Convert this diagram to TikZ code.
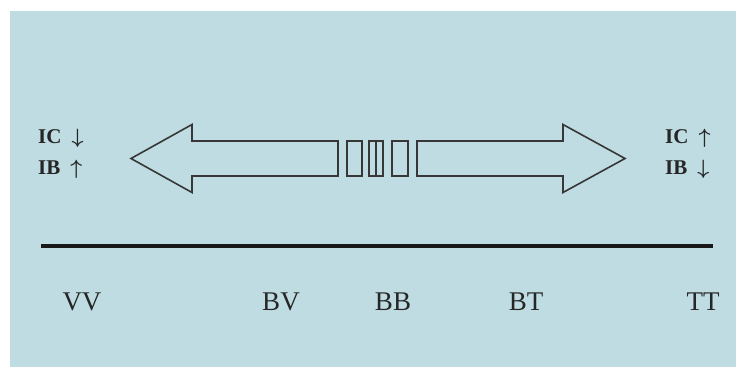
\documentclass[tikz,border=0pt]{standalone}
\usepackage{fontspec}
\setmainfont{Liberation Serif}
\definecolor{bgblue}{RGB}{190,220,225}
\definecolor{outl}{RGB}{55,55,55}
\definecolor{axis}{RGB}{25,25,25}
\begin{document}
\begin{tikzpicture}[x=1pt,y=-1pt,
  arrowshape/.style={draw=outl,line width=1.6pt,line join=miter},
  boxshape/.style={draw=outl,line width=1.6pt},
  axisline/.style={draw=axis,line width=4pt},
  tick/.style={anchor=base,font=\fontsize{27}{30}\selectfont,text=black!85,inner sep=0pt},
  trend/.style={anchor=base west,font=\bfseries\boldmath\fontsize{21}{24}\selectfont,text=black!85,inner sep=0pt}]
\useasboundingbox (0,0) rectangle (736,367);
\fill[bgblue] (10,11) rectangle (736,367);
% left arrow
\draw[arrowshape] (338,141) -- (192,141) -- (192,124.5) -- (131,158.5) -- (192,192.5) -- (192,176) -- (338,176) -- cycle;
% right arrow
\draw[arrowshape] (417,141) -- (563,141) -- (563,124.5) -- (625,158.5) -- (563,192.5) -- (563,176) -- (417,176) -- cycle;
% middle boxes
\draw[boxshape] (347,141) rectangle (362,176);
\draw[boxshape] (369,141) rectangle (383,176);
\draw[boxshape] (376,141) -- (376,176);
\draw[boxshape] (392,141) rectangle (408,176);
% axis
\coordinate (axL) at (41,245.5);
\coordinate (axR) at (713,245.5);
\draw[axisline] (axL) -- (axR);
% labels
\node[tick] (vv) at (82,310) {VV};
\node[tick] (bv) at (281,310) {BV};
\node[tick] (bb) at (393,310) {BB};
\node[tick] (bt) at (526,310) {BT};
\node[tick] (tt) at (703,310) {TT};
% trend labels
\node[trend] (lic) at (38,143) {IC\hspace{10pt}$\downarrow$};
\node[trend] (lib) at (38,174) {IB\hspace{10pt}$\uparrow$};
\node[trend] (ric) at (665,143) {IC\hspace{10pt}$\uparrow$};
\node[trend] (rib) at (665,174) {IB\hspace{10pt}$\downarrow$};
\end{tikzpicture}
\end{document}
